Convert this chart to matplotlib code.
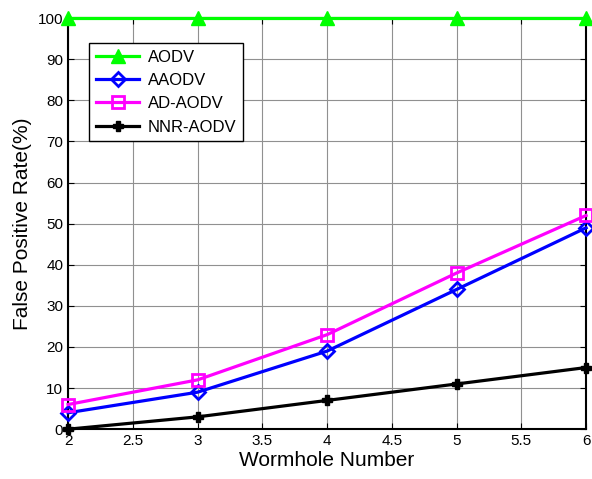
import matplotlib
matplotlib.use("Agg")
import matplotlib.pyplot as plt

plt.rcParams['font.family'] = ['Liberation Sans', 'DejaVu Sans']

x = [2, 3, 4, 5, 6]
aodv = [100, 100, 100, 100, 100]
aaodv = [4, 9, 19, 34, 49]
ad_aodv = [6, 12, 23, 38, 52]
nnr_aodv = [0, 3, 7, 11, 15]

xticks = [2, 2.5, 3, 3.5, 4, 4.5, 5, 5.5, 6]
xticklabels = ['2', '2.5', '3', '3.5', '4', '4.5', '5', '5.5', '6']
yticks = list(range(0, 101, 10))

fig = plt.figure(figsize=(5.92, 4.79), dpi=100)
ax = fig.add_axes([0.115, 0.104, 0.875, 0.858])

lw = 2.3
ax.plot(x, aodv, color='#00ff00', lw=lw, marker='^', ms=10, mfc='#00ff00', mec='#00ff00', label='AODV', clip_on=False, zorder=5)
ax.plot(x, aaodv, color='#0000ff', lw=lw, marker='D', ms=7, mfc='none', mec='#0000ff', mew=2, label='AAODV', clip_on=False, zorder=4)
ax.plot(x, ad_aodv, color='#ff00ff', lw=lw, marker='s', ms=8, mfc='none', mec='#ff00ff', mew=2, label='AD-AODV', clip_on=False, zorder=4)
ax.plot(x, nnr_aodv, color='black', lw=lw, marker='P', ms=7, mfc='black', mec='black', label='NNR-AODV', clip_on=False, zorder=4)

ax.set_xlim(2, 6)
ax.set_ylim(0, 100)
ax.set_xticks(xticks)
ax.set_xticklabels(xticklabels)
ax.set_yticks(yticks)
ax.grid(True, color='#909090', lw=0.8)
ax.tick_params(direction='in', top=True, right=True, labelsize=11, length=4)
for s in ax.spines.values():
    s.set_linewidth(1.5)
ax.set_xlabel('Wormhole Number', fontsize=15, labelpad=2)
ax.set_ylabel('False Positive Rate(%)', fontsize=15, labelpad=4)

leg = ax.legend(loc='upper left', bbox_to_anchor=(0.041, 0.94), borderaxespad=0, fontsize=12,
                fancybox=False, edgecolor='black', framealpha=1, handlelength=2.6,
                handletextpad=0.5, borderpad=0.4, labelspacing=0.5)
leg.get_frame().set_linewidth(1.0)

fig.savefig('out.png', dpi=100)
